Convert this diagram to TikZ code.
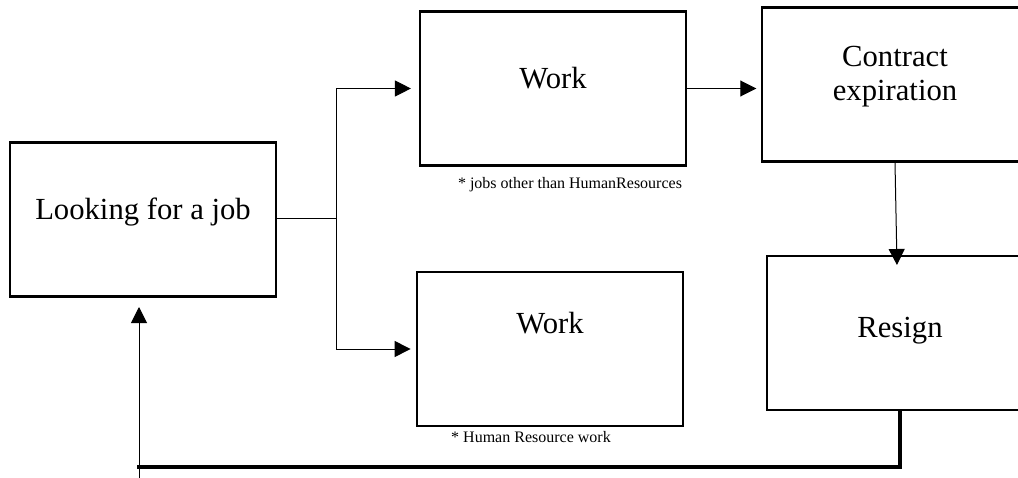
\documentclass[tikz,border=0pt]{standalone}
\usepackage{fontspec}
\setmainfont{Liberation Serif}
\usetikzlibrary{arrows.meta}

\tikzset{every picture/.style={line width=0.75pt}}

\begin{document}
\begin{tikzpicture}[x=0.75pt,y=0.75pt,yscale=-1,xscale=1,
	stage/.style={draw, line width=1.6pt, minimum width=199.5pt, minimum height=115.5pt, inner sep=0pt},
	stagetext/.style={font=\fontsize{23}{25}\selectfont, inner sep=0pt, align=center},
	note/.style={font=\fontsize{12}{14}\selectfont, inner sep=0pt},
	flow/.style={-{Triangle[length=12pt,width=12pt]}},
	loopline/.style={line width=3pt}]
	\useasboundingbox (0,0) rectangle (1018,478);

	%Shape: Rectangle [look]
	\node[stage] (look) at (143,219.5) {};
	%Shape: Rectangle [work, other jobs]
	\node[stage] (work) at (553,88.5) {};
	%Shape: Rectangle [contract]
	\node[stage] (contract) at (895,84.5) {};
	%Shape: Rectangle [resign]
	\node[stage] (resign) at (900,333) {};
	%Shape: Rectangle [work, human resources]
	\node[stage] (hrwork) at (550,349) {};

	% Text Node
	\node[stagetext, anchor=base] (looktext) at (look.center) {Looking for a job};
	% Text Node
	\node[stagetext, anchor=base] (worktext) at (work.center) {Work};
	% Text Node
	\node[stagetext, yshift=6pt] (contracttext) at (contract.center) {Contract\\expiration};
	% Text Node
	\node[stagetext, anchor=base, yshift=-3pt] (resigntext) at (resign.center) {Resign};
	% Text Node
	\node[stagetext, anchor=base, yshift=12pt] (hrworktext) at (hrwork.center) {Work};
	% Text Node
	\node[note] (worknote) at (570,185) {* jobs other than HumanResources};
	% Text Node
	\node[note] (hrworknote) at (531,437) {* Human Resource work};

	%Straight Lines [split]
	\coordinate (split) at (336,218);
	\draw (look.east |- split) -- (split);
	\draw[flow, shorten >=6pt] (split) |- (work.west);
	\draw[flow, shorten >=4pt] (split) |- (hrwork.west);
	%Straight Lines [work to contract]
	\draw[flow, shorten >=3.5pt] (work.east) -- (work.east -| contract.west);
	%Straight Lines [contract to resign]
	\coordinate (resignin) at (897,265);
	\draw[flow] (contract.south) -- (resignin);
	%Straight Lines [back to looking]
	\coordinate (back) at (137,467);
	\draw[loopline] (resign.south) |- (back);
	\coordinate (backstart) at (139,478);
	\coordinate (lookin) at (139,307);
	\draw[flow] (backstart) -- (lookin);

\end{tikzpicture}
\end{document}
